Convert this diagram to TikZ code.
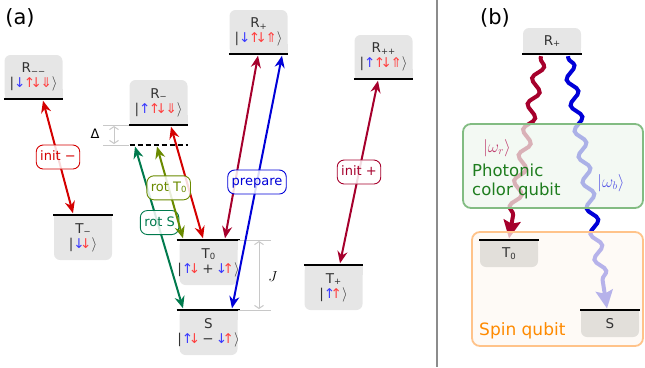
\documentclass[tikz,border=0pt]{standalone}
\usepackage{fontspec}
\setmainfont{DejaVu Sans}
\usetikzlibrary{arrows.meta,decorations.pathmorphing}

\definecolor{boxgray}{HTML}{E6E6E6}
\definecolor{boxwarm}{HTML}{E2DFDA}
\definecolor{txtgray}{HTML}{333333}
\definecolor{spinblue}{HTML}{3A3AFF}
\definecolor{spinred}{HTML}{FF4040}
\definecolor{cRed}{HTML}{D40000}
\definecolor{cDarkRed}{HTML}{A6002C}
\definecolor{cBlue}{HTML}{0000D8}
\definecolor{cTeal}{HTML}{007A4D}
\definecolor{cOlive}{HTML}{6A8A00}
\definecolor{gaugegray}{HTML}{C8C8C8}
\definecolor{sepgray}{HTML}{8C8C8C}
\definecolor{greenfill}{HTML}{EEF6EE}
\definecolor{greenborder}{HTML}{82BC82}
\definecolor{greentext}{HTML}{1E7D1E}
\definecolor{orangefill}{HTML}{FDF8F2}
\definecolor{orangeborder}{HTML}{FFC38A}
\definecolor{orangetext}{HTML}{FF8A00}
\definecolor{omegared}{HTML}{C04070}
\definecolor{omegablue}{HTML}{5A5AE6}

\newcommand\sbs[1]{\raisebox{-0.2ex}{\fontsize{8.5}{8.5}\selectfont #1}}
\newcommand\ua[1]{\textcolor{#1}{↑}}
\newcommand\da[1]{\textcolor{#1}{↓}}
\newcommand\Ua[1]{\textcolor{#1}{⇑}}
\newcommand\Da[1]{\textcolor{#1}{⇓}}
\newcommand\kL{\textcolor{txtgray}{|}}
\newcommand\kR{\textcolor{txtgray}{$\rangle$}}
\newcommand\pr{\kern-4.5pt}
\newcommand\gp{\kern-1.5pt}

\newcommand\lvlR[6]{%
  \fill[#5,rounded corners=6pt] (#2-29,#3-#4) rectangle (#2+29,#3);
  \fill[#5] (#2-29,#3-10) rectangle (#2+29,#3);
  \node[lvltext,minimum height=#4pt] (#1) at (#2,#3-#4/2) {#6};
  \draw[lvlline] ([xshift=-0.5pt]#1.south west) -- ([xshift=0.5pt]#1.south east);
}
\newcommand\lvlT[6]{%
  \fill[#5,rounded corners=6pt] (#2-29,#3) rectangle (#2+29,#3+#4);
  \fill[#5] (#2-29,#3) rectangle (#2+29,#3+10);
  \node[lvltext,minimum height=#4pt] (#1) at (#2,#3+#4/2) {#6};
  \draw[lvlline] ([xshift=-0.5pt]#1.north west) -- ([xshift=0.5pt]#1.north east);
}

\tikzset{
  lvltext/.style={minimum width=58pt,inner sep=0pt,align=center,text=txtgray,
    font=\fontsize{13.5}{15}\selectfont},
  lvlline/.style={line width=2.5pt,black},
  trans/.style={line width=2pt,{Stealth[length=12pt,width=10pt]}-{Stealth[length=12pt,width=10pt]}},
  tlabel/.style={draw,line width=0.9pt,rounded corners=7pt,fill=white,fill opacity=0.85,
    text opacity=1,inner xsep=4pt,inner ysep=6pt,text height=9.5pt,text depth=2.5pt,
    font=\fontsize{13}{13}\selectfont},
  gauge/.style={gaugegray,line width=1pt},
  gaugearrow/.style={gaugegray,line width=1pt,{Straight Barb[length=3pt,width=9pt]}-{Straight Barb[length=3pt,width=9pt]}},
  wave/.style={line width=4pt,decorate,
    decoration={snake,amplitude=5pt,segment length=26pt,pre length=2pt,post length=18pt},
    -{Stealth[length=18pt,width=17pt,inset=3pt]}},
  qbox/.style={rounded corners=8pt,line width=1.8pt,fill opacity=0.72},
}

\begin{document}
\begin{tikzpicture}[x=1pt,y=-1pt]
\useasboundingbox (0,0) rectangle (645,367);

% panel labels and separator
\node[font=\fontsize{21}{21}\selectfont] (la) at (20,18) {(a)};
\node[font=\fontsize{21}{21}\selectfont] (lb) at (495,18) {(b)};
\coordinate (septop) at (437,0);
\coordinate (sepbot) at (437,367);
\draw[sepgray,line width=2.5pt] (septop) -- (sepbot);

% ---------- panel (a) levels ----------
\lvlR{Rmm}{33.5}{99}{44}{boxgray}{R\sbs{−−}\\\kL\da{spinblue}\gp\ua{spinred}\pr\da{spinred}\gp\Da{spinred}\kR}
\lvlR{Rm}{158.5}{125}{45}{boxgray}{R\sbs{−}\\\kL\ua{spinblue}\gp\ua{spinred}\pr\da{spinred}\gp\Da{spinred}\kR}
\lvlR{Rp}{258.5}{54}{44}{boxgray}{R\sbs{+}\\\kL\da{spinblue}\gp\ua{spinred}\pr\da{spinred}\gp\Ua{spinred}\kR}
\lvlR{Rpp}{383.5}{79}{44}{boxgray}{R\sbs{++}\\\kL\ua{spinblue}\gp\ua{spinred}\pr\da{spinred}\gp\Ua{spinred}\kR}
\lvlT{Tm}{83}{215}{45}{boxgray}{T\sbs{−}\\\kL\da{spinblue}\pr\da{spinred}\kR}
\lvlT{Tz}{208.5}{240}{45}{boxgray}{T\sbs{0}\\\kL\ua{spinblue}\pr\da{spinred}\,\textcolor{txtgray}{+}\,\da{spinblue}\pr\ua{spinred}\kR}
\lvlT{S}{208.5}{310}{45}{boxgray}{S\\\kL\ua{spinblue}\pr\da{spinred}\,\textcolor{txtgray}{−}\,\da{spinblue}\pr\ua{spinred}\kR}
\lvlT{Tp}{333.5}{265}{45}{boxgray}{T\sbs{+}\\\kL\ua{spinblue}\pr\ua{spinred}\kR}

% virtual (dashed) level below R-
\coordinate (Rd) at (158.5,145);
\draw[lvlline,dash pattern=on 5pt off 3pt] ([xshift=-29pt]Rd) -- ([xshift=29pt]Rd);

% Delta gauge
\coordinate (dA1) at (103,125); \coordinate (dA2) at (129,125);
\coordinate (dB1) at (103,145); \coordinate (dB2) at (129,145);
\draw[gauge] (dA1) -- (dA2);
\draw[gauge] (dB1) -- (dB2);
\coordinate (dU) at (114,126); \coordinate (dD) at (114,144);
\draw[gaugearrow] (dU) -- (dD);
\node[font=\fontsize{13}{13}\selectfont] (Delta) at (95,134) {Δ};

% J gauge
\coordinate (jA1) at (238,240); \coordinate (jA2) at (271,240);
\coordinate (jB1) at (238,310); \coordinate (jB2) at (271,310);
\draw[gauge] (jA1) -- (jA2);
\draw[gauge] (jB1) -- (jB2);
\coordinate (jU) at (259,241); \coordinate (jD) at (259,309);
\draw[gaugearrow] (jU) -- (jD);
\node[font=\fontsize{14}{14}\selectfont] (Jl) at (273,277) {$J$};

% transitions
\draw[trans,cRed] ([xshift=9.5pt,yshift=-1.5pt]Rmm.south) -- ([xshift=-10pt,yshift=1.5pt]Tm.north)
  node[tlabel,pos=0.5,text=cRed] (lInitm) {init −};
\draw[trans,cRed] ([xshift=12.5pt,yshift=-1.5pt]Rm.south) -- ([xshift=-5.5pt,yshift=1.5pt]Tz.north);
\draw[trans,cTeal] ([xshift=-23.5pt,yshift=-1.5pt]Rd) -- ([xshift=-25.5pt,yshift=1.5pt]S.north)
  node[tlabel,pos=0.47,text=cTeal,xshift=2pt] (lrotS) {rot S};
\draw[trans,cOlive] ([xshift=-1.5pt,yshift=-1.5pt]Rd) -- ([xshift=-25.5pt,yshift=1.5pt]Tz.north)
  node[tlabel,pos=0.45,text=cOlive] (lrotT) {rot T\sbs{0}};
\draw[trans,cDarkRed] ([xshift=-0.5pt,yshift=-1.5pt]Rp.south) -- ([xshift=16.5pt,yshift=1.5pt]Tz.north);
\draw[trans,cBlue] ([xshift=23.5pt,yshift=-1.5pt]Rp.south) -- ([xshift=23.5pt,yshift=1.5pt]S.north)
  node[tlabel,pos=0.5,text=cBlue] (lprep) {prepare};
\draw[trans,cDarkRed] ([xshift=-5.5pt,yshift=-1.5pt]Rpp.south) -- ([xshift=6.5pt,yshift=1.5pt]Tp.north)
  node[tlabel,pos=0.5,text=cDarkRed] (linitp) {init +};

% ---------- panel (b) ----------
\lvlR{Rpb}{552}{54}{26}{boxgray}{R\sbs{+}}
\coordinate (T0btop) at (509,238.5);
\coordinate (Sbtop) at (607,308.5);
\draw[wave,cDarkRed] ([xshift=-11pt,yshift=-2pt]Rpb.south) -- (T0btop);
\draw[wave,cBlue] ([xshift=16pt,yshift=-2pt]Rpb.south) -- (Sbtop);

\draw[qbox,draw=greenborder,fill=greenfill] (463,124) rectangle (643,208);
\draw[qbox,draw=orangeborder,fill=orangefill] (472,232) rectangle (643,346);

\lvlT{T0b}{509}{240}{27}{boxwarm}{T\sbs{0}}
\lvlT{Sb}{610}{310}{27}{boxwarm}{S}

\node[text=omegared,font=\fontsize{16}{16}\selectfont] (wr) at (497,148) {$|\omega_r\rangle$};
\node[text=omegablue,font=\fontsize{16}{16}\selectfont] (wb) at (611,183) {$|\omega_b\rangle$};
\node[text=greentext,anchor=west,align=left,inner sep=0pt,
  font=\fontsize{16.5}{19}\selectfont] (photon) at (472,181) {Photonic\\color qubit};
\node[text=orangetext,anchor=base west,inner sep=0pt,
  font=\fontsize{17}{17}\selectfont] (spin) at (479,335) {Spin qubit};
\end{tikzpicture}
\end{document}
